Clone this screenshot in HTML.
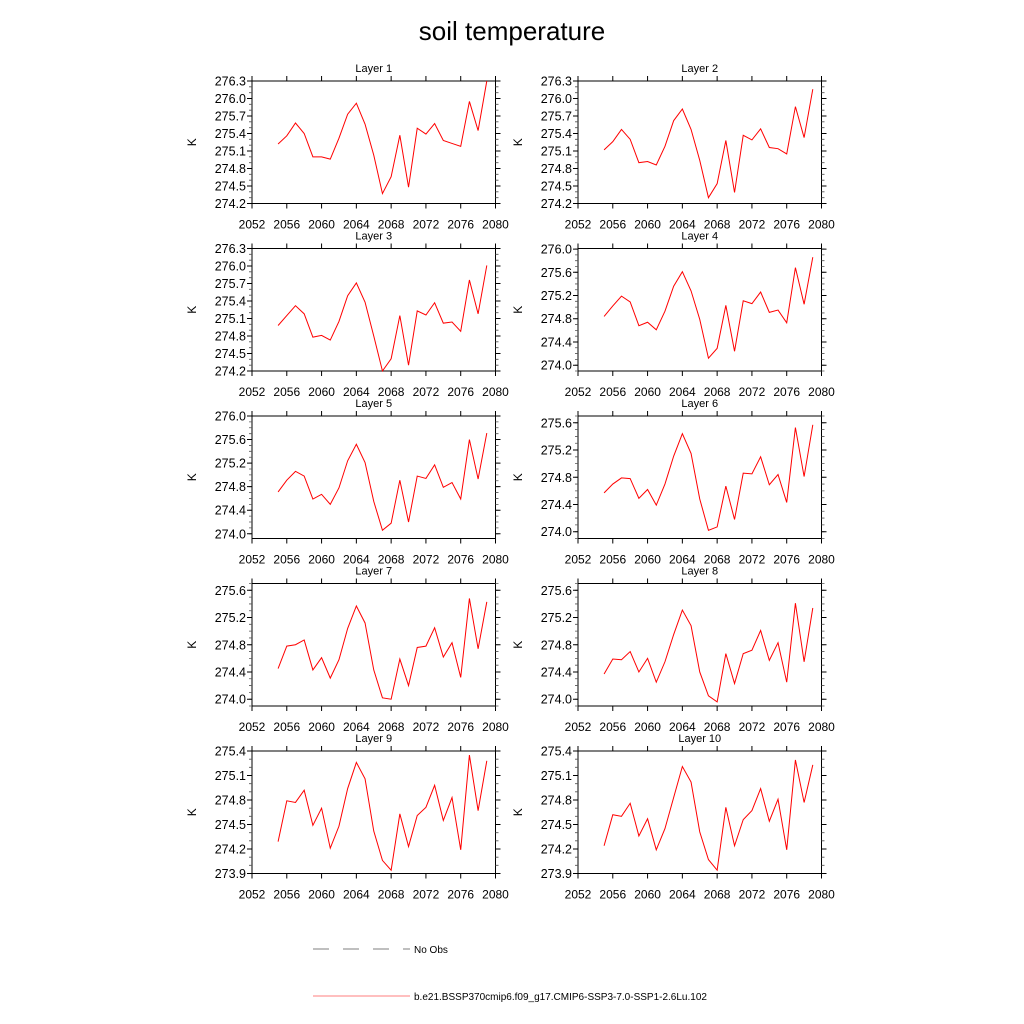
<!DOCTYPE html>
<html><head><meta charset="utf-8"><style>
html,body{margin:0;padding:0;background:#fff}
svg{display:block;font-family:"Liberation Sans",Arial,sans-serif}
</style></head><body>
<svg id="chart" width="1024" height="1024" viewBox="0 0 1024 1024" xmlns="http://www.w3.org/2000/svg">
<text x="512" y="40" font-size="26" text-anchor="middle">soil temperature</text>
<g>
<line x1="313" y1="949" x2="410" y2="949" stroke="#000" stroke-width="0.6" stroke-dasharray="16,14"/>
<text x="414" y="953" font-size="10">No Obs</text>
<line x1="313" y1="996" x2="410" y2="996" stroke="#f00" stroke-width="0.6"/>
<text x="414" y="1000" font-size="10">b.e21.BSSP370cmip6.f09_g17.CMIP6-SSP3-7.0-SSP1-2.6Lu.102</text>
</g>
<g id="panels"></g>
</svg>
<script>
const years = [2055,2056,2057,2058,2059,2060,2061,2062,2063,2064,2065,2066,2067,2068,2069,2070,2071,2072,2073,2074,2075,2076,2077,2078,2079];
const xTicks = [2052,2056,2060,2064,2068,2072,2076,2080];
const layer1 = [275.22,275.36,275.58,275.40,275.00,275.00,274.96,275.32,275.73,275.92,275.56,275.03,274.37,274.66,275.37,274.48,275.49,275.39,275.57,275.28,275.23,275.18,275.95,275.45,276.30];
const layer2 = [275.12,275.26,275.47,275.30,274.90,274.92,274.86,275.18,275.62,275.82,275.47,274.94,274.30,274.54,275.28,274.39,275.37,275.29,275.48,275.16,275.14,275.05,275.86,275.33,276.16];
const layer3 = [274.98,275.15,275.32,275.18,274.78,274.81,274.73,275.05,275.49,275.71,275.38,274.80,274.20,274.41,275.15,274.30,275.23,275.16,275.37,275.02,275.04,274.88,275.76,275.18,276.01];
const layer4 = [274.84,275.02,275.19,275.09,274.68,274.74,274.61,274.93,275.36,275.61,275.28,274.79,274.12,274.29,275.03,274.24,275.11,275.06,275.26,274.91,274.95,274.73,275.68,275.05,275.86];
const layer5 = [274.71,274.91,275.06,274.98,274.59,274.67,274.50,274.78,275.24,275.52,275.21,274.55,274.06,274.18,274.91,274.20,274.98,274.94,275.17,274.79,274.87,274.59,275.60,274.93,275.71];
const layer6 = [274.57,274.70,274.79,274.78,274.49,274.62,274.39,274.70,275.11,275.44,275.15,274.48,274.02,274.07,274.67,274.18,274.86,274.85,275.10,274.69,274.84,274.43,275.53,274.81,275.57];
const layer7 = [274.45,274.78,274.80,274.87,274.43,274.61,274.31,274.58,275.04,275.37,275.12,274.43,274.02,274.00,274.59,274.20,274.76,274.78,275.05,274.62,274.83,274.32,275.48,274.74,275.43];
const layer8 = [274.37,274.59,274.58,274.70,274.40,274.60,274.25,274.55,274.95,275.31,275.08,274.40,274.05,273.96,274.67,274.23,274.67,274.72,275.01,274.57,274.83,274.25,275.41,274.55,275.34];
const layer9 = [274.29,274.79,274.77,274.92,274.49,274.70,274.21,274.48,274.94,275.26,275.06,274.42,274.06,273.94,274.63,274.23,274.61,274.71,274.98,274.55,274.83,274.19,275.35,274.67,275.28];
const layer10 = [274.24,274.62,274.60,274.76,274.36,274.57,274.19,274.45,274.83,275.21,275.02,274.41,274.07,273.94,274.71,274.24,274.56,274.67,274.94,274.54,274.81,274.19,275.29,274.77,275.23];
const yTicksA = [274.2,274.5,274.8,275.1,275.4,275.7,276.0,276.3];
const yTicksB = [274.0,274.4,274.8,275.2,275.6,276.0];
const yTicksC = [274.0,274.4,274.8,275.2,275.6];
const yTicksD = [273.9,274.2,274.5,274.8,275.1,275.4];
const layerNames = ["Layer 1","Layer 2","Layer 3","Layer 4","Layer 5","Layer 6","Layer 7","Layer 8","Layer 9","Layer 10"];
const layerValues = [layer1,layer2,layer3,layer4,layer5,layer6,layer7,layer8,layer9,layer10];
const layerTicks = [yTicksA,yTicksA,yTicksA,yTicksB,yTicksB,yTicksC,yTicksC,yTicksC,yTicksD,yTicksD];
const layerMin = [274.2,274.2,274.2,273.9,273.92,273.9,273.9,273.9,273.9,273.9];
const layerMax = [276.3,276.3,276.3,276.01,276.0,275.7,275.7,275.7,275.4,275.4];
const layerMinorStep = [0.1,0.1,0.1,0.1,0.1,0.1,0.1,0.1,0.1,0.1];

const NS = "http://www.w3.org/2000/svg";
const root = document.getElementById("panels");
function mk(tag, attrs, parent){
  const e = document.createElementNS(NS, tag);
  for (const k in attrs) e.setAttribute(k, attrs[k]);
  parent.appendChild(e);
  return e;
}
const W = 243.5, H = 122.5;
const lefts = [252, 578];
const tops = [81, 248.5, 416, 583.5, 751];
for (let i = 0; i < 10; i++) {
  const L = lefts[i % 2], T = tops[Math.floor(i / 2)];
  const x = v => L + (v - 2052) / (2080 - 2052) * W;
  const y = v => T + H - (v - layerMin[i]) / (layerMax[i] - layerMin[i]) * H;
  const g = mk("g", {}, root);
  
  
  const t = mk("text", {x: L + W / 2, y: T - 9, "font-size": 11, "text-anchor": "middle"}, g);
  
  
  t.textContent = layerNames[i];
  const fr = mk("rect", {x: L, y: T, width: W, height: H, fill: "none", stroke: "#000", "stroke-width": 1}, g);
  
  
  xTicks.forEach(v => {
    const xx = x(v);
    const tk = mk("path", {d: `M${xx},${T+H}V${T+H+5}M${xx},${T}V${T-5}`, stroke: "#000", "stroke-width": 1}, g);
    
    
    const lb = mk("text", {x: xx, y: T + H + 25, "font-size": 12, "text-anchor": "middle"}, g);
    
    
    lb.textContent = v;
  });
  const mn = layerMin[i], mx = layerMax[i], st = layerMinorStep[i];
  for (let v = Math.ceil(mn / st - 1e-6) * st; v <= mx + 1e-6; v += st) {
    const yy = y(v);
    const mt = mk("path", {d: `M${L-3},${yy}H${L}M${L+W},${yy}H${L+W+3}`, stroke: "#555", "stroke-width": 0.8}, g);
    
    
  }
  layerTicks[i].forEach(v => {
    const yy = y(v);
    const tk = mk("path", {d: `M${L-5},${yy}H${L}M${L+W},${yy}H${L+W+5}`, stroke: "#000", "stroke-width": 1}, g);
    
    
    const lb = mk("text", {x: L - 6, y: yy + 4.5, "font-size": 12.5, "text-anchor": "end"}, g);
    
    
    lb.textContent = v.toFixed(1);
  });
  const yl = mk("text", {x: 0, y: 0, "font-size": 12, "text-anchor": "middle", transform: `translate(${L-56},${T+H/2}) rotate(-90)`}, g);
  
  
  yl.textContent = "K";
  const pts = years.map((yr, j) => `${x(yr).toFixed(2)},${y(layerValues[i][j]).toFixed(2)}`).join(" ");
  const pl = mk("polyline", {points: pts, fill: "none", stroke: "#f00", "stroke-width": 1}, g);
  
  
}
</script>
</body></html>
